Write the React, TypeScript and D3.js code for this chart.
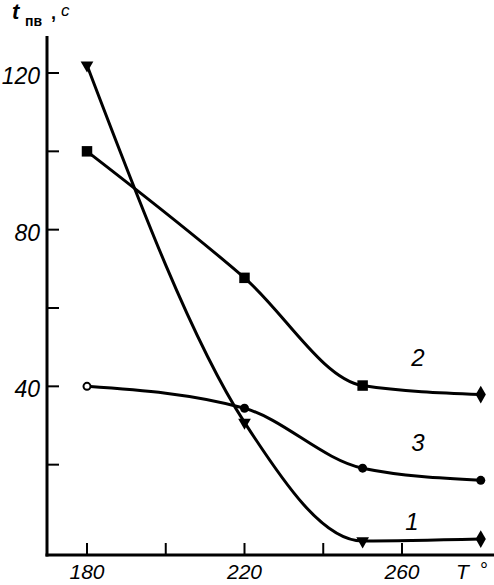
import React from 'react';
import * as d3 from 'd3';

// temperatures (deg) and times t_пв (s)
const temps = [180, 220, 250, 280];
const series1 = [122, 30.8, 0.5, 1];
const series2 = [100, 67.7, 40.2, 37.9];
const series3 = [40, 34.4, 19.1, 16];
const xTicks = [180, 200, 220, 240, 260];
const xTickLabels = ['180', '220', '260'];
const yTicks = [20, 40, 60, 80, 100, 120];
const yTickLabels = ['40', '80', '120'];

const W = 494;
const H = 585;
const FONT = '"Liberation Sans", Arial, sans-serif';

const App = () => {
  // scales
  const x = d3.scaleLinear().domain([180, 260]).range([87, 402]);
  const y = d3.scaleLinear().domain([0, 120]).range([543, 73]);

  const axisX = 47;
  const axisY = 555;

  const line = d3.line<number>()
    .x((d, i) => x(temps[i]))
    .y(d => y(d))
    .curve(d3.curveMonotoneX);

  const tri = d3.symbol().type(d3.symbolTriangle).size(70)();
  const sq = d3.symbol().type(d3.symbolSquare).size(110)();
  const dia = d3.symbol().type(d3.symbolDiamond).size(90)();

  return (
    <svg width={W} height={H} style={{ position: 'absolute', left: 0, top: 0, background: '#fff' }}>
      {/* axes */}
      <line x1={axisX} y1={36} x2={axisX} y2={axisY + 1.5} stroke="#000" strokeWidth={3} />
      <line x1={axisX - 1.5} y1={axisY} x2={W} y2={axisY} stroke="#000" strokeWidth={3} />
      {yTicks.map(t => (
        <line key={'yt' + t} x1={axisX} x2={axisX + 12} y1={y(t)} y2={y(t)} stroke="#000" strokeWidth={2} />
      ))}
      {xTicks.map(t => (
        <line key={'xt' + t} x1={x(t)} x2={x(t)} y1={axisY} y2={axisY - 12} stroke="#000" strokeWidth={2} />
      ))}
      {yTickLabels.map(t => (
        <text key={'yl' + t} x={40} y={y(+t) + 5} textAnchor="end" fontFamily={FONT}
          fontStyle="italic" fontSize={23} dominantBaseline="middle">{t}</text>
      ))}
      {xTickLabels.map(t => (
        <text key={'xl' + t} x={x(+t)} y={579} textAnchor="middle" fontFamily={FONT}
          fontStyle="italic" fontSize={21}>{t}</text>
      ))}
      <text x={456} y={579} fontFamily={FONT} fontStyle="italic" fontSize={21}>T</text>
      <text x={480} y={577} fontFamily={FONT} fontSize={20}>°</text>

      {/* axis title */}
      <text x={12} y={19} fontFamily={FONT} fontStyle="italic" fontSize={22} fontWeight="bold">t</text>
      <text x={25} y={26} fontFamily={FONT} fontSize={14} fontWeight="bold">пв</text>
      <text x={51} y={19} fontFamily={FONT} fontSize={18} fontWeight="bold">,</text>
      <text x={61} y={16} fontFamily={FONT} fontStyle="italic" fontSize={17}>с</text>

      {/* curves */}
      <path d={line(series1) || ''} fill="none" stroke="#000" strokeWidth={3} />
      <path d={line(series2) || ''} fill="none" stroke="#000" strokeWidth={3} />
      <path d={line(series3) || ''} fill="none" stroke="#000" strokeWidth={3} />

      {/* markers, curve 1 */}
      {series1.map((v, i) => (
        <path key={'m1' + i} d={i === series1.length - 1 ? dia : tri}
          transform={`translate(${x(temps[i])},${y(v)}) rotate(${i === series1.length - 1 ? 0 : 180})`} fill="#000" />
      ))}
      {/* markers, curve 2 */}
      {series2.map((v, i) => (
        <path key={'m2' + i} d={i === series2.length - 1 ? dia : sq}
          transform={`translate(${x(temps[i])},${y(v)})`} fill="#000" />
      ))}
      {/* markers, curve 3 */}
      {series3.map((v, i) => (
        <circle key={'m3' + i} cx={x(temps[i])} cy={y(v)} r={i === 0 ? 3.5 : 4.5}
          fill={i === 0 ? '#fff' : '#000'} stroke="#000" strokeWidth={i === 0 ? 2 : 0} />
      ))}

      {/* curve labels */}
      <text x={418} y={366} textAnchor="middle" fontFamily={FONT} fontStyle="italic" fontSize={24}>2</text>
      <text x={418} y={451} textAnchor="middle" fontFamily={FONT} fontStyle="italic" fontSize={24}>3</text>
      <text x={412} y={530} textAnchor="middle" fontFamily={FONT} fontStyle="italic" fontSize={24}>1</text>
    </svg>
  );
};

export default App;
